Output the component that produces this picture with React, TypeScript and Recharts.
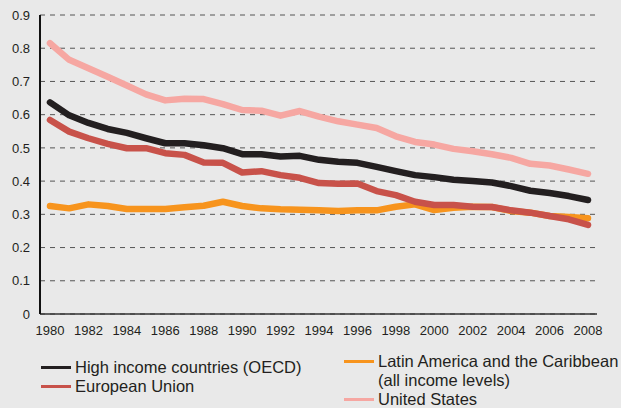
import { LineChart, Line, XAxis, YAxis, CartesianGrid } from 'recharts'

const years = [
  1980, 1981, 1982, 1983, 1984, 1985, 1986, 1987, 1988, 1989, 1990, 1991, 1992, 1993, 1994,
  1995, 1996, 1997, 1998, 1999, 2000, 2001, 2002, 2003, 2004, 2005, 2006, 2007, 2008,
]
const highIncome = [
  0.637, 0.598, 0.575, 0.557, 0.545, 0.529, 0.514, 0.514, 0.508, 0.499, 0.481, 0.481, 0.474, 0.476, 0.464,
  0.458, 0.455, 0.443, 0.43, 0.418, 0.412, 0.404, 0.4, 0.396, 0.385, 0.371, 0.364, 0.355, 0.343,
]
const europeanUnion = [
  0.584, 0.549, 0.529, 0.512, 0.499, 0.499, 0.484, 0.479, 0.456, 0.455, 0.426, 0.43, 0.418, 0.41, 0.394,
  0.392, 0.393, 0.37, 0.358, 0.338, 0.328, 0.328, 0.323, 0.322, 0.312, 0.305, 0.295, 0.285, 0.268,
]
const latinAmerica = [
  0.325, 0.318, 0.33, 0.325, 0.316, 0.316, 0.316, 0.321, 0.326, 0.338, 0.325, 0.318, 0.315, 0.314, 0.312,
  0.31, 0.312, 0.312, 0.323, 0.33, 0.313, 0.32, 0.323, 0.322, 0.31, 0.305, 0.295, 0.292, 0.288,
]
const unitedStates = [
  0.815, 0.765, 0.74, 0.714, 0.688, 0.661, 0.643, 0.648, 0.647, 0.632, 0.614, 0.612, 0.597, 0.611, 0.594,
  0.58, 0.57, 0.56, 0.535, 0.518, 0.51, 0.497, 0.49, 0.481, 0.47, 0.452, 0.447, 0.435, 0.422,
]
const xTicks = [1980, 1982, 1984, 1986, 1988, 1990, 1992, 1994, 1996, 1998, 2000, 2002, 2004, 2006, 2008]
const yTicks = [0, 0.1, 0.2, 0.3, 0.4, 0.5, 0.6, 0.7, 0.8, 0.9]

const data = years.map((y, i) => ({
  year: y,
  hi: highIncome[i],
  eu: europeanUnion[i],
  la: latinAmerica[i],
  us: unitedStates[i],
}))

const FONT = '"Liberation Sans", Arial, sans-serif'
const BLACK = '#231f20'
const RED = '#c8524a'
const ORANGE = '#f7941d'
const PINK = '#f6a7a2'

// legend row: swatch centred on the first text line
function LegendItem({ color, left, top, children }: { color: string; left: number; top: number; children: React.ReactNode }) {
  return (
    <div style={{ position: 'absolute', left, top, fontSize: 16.5, lineHeight: '19px', whiteSpace: 'nowrap' }}>
      <span style={{ position: 'absolute', left: 0, top: 8, width: 30, height: 3, background: color }} />
      <div style={{ marginLeft: 34 }}>{children}</div>
    </div>
  )
}

export default function App() {
  const lineProps = { type: 'linear' as const, strokeWidth: 6.5, dot: false, isAnimationActive: false, strokeLinecap: 'round' as const, strokeLinejoin: 'round' as const }
  return (
    <div style={{ position: 'absolute', left: 0, top: 0, width: 621, height: 408, overflow: 'hidden', background: '#e9e9e9', fontFamily: FONT, color: '#231f20' }}>
      <LineChart width={621} height={408} data={data} margin={{ top: 15, right: 24, left: 0, bottom: 64 }}>
        <CartesianGrid vertical={false} stroke="#555" strokeDasharray="5 5" />
        <XAxis
          dataKey="year"
          type="number"
          domain={[1980, 2008]}
          ticks={xTicks}
          padding={{ left: 10, right: 9 }}
          tickLine={false}
          tickMargin={6}
          axisLine={{ stroke: '#333', strokeWidth: 1.5 }}
          tick={{ fill: '#231f20', fontSize: 13, fontFamily: FONT }}
          height={30}
          interval={0}
        />
        <YAxis
          domain={[0, 0.9]}
          ticks={yTicks}
          width={40}
          tickLine={false}
          tickMargin={4}
          axisLine={{ stroke: '#111', strokeWidth: 2 }}
          tick={{ fill: '#231f20', fontSize: 13, fontFamily: FONT }}
          tickFormatter={(v: number) => (v === 0 ? '0' : v.toFixed(1))}
        />
        <Line dataKey="la" stroke={ORANGE} {...lineProps} />
        <Line dataKey="eu" stroke={RED} {...lineProps} />
        <Line dataKey="us" stroke={PINK} {...lineProps} />
        <Line dataKey="hi" stroke={BLACK} {...lineProps} />
      </LineChart>
      <LegendItem color={BLACK} left={41} top={358}>High income countries (OECD)</LegendItem>
      <LegendItem color={RED} left={41} top={377}>European Union</LegendItem>
      <LegendItem color={ORANGE} left={344} top={352}>
        Latin America and the Caribbean<br />(all income levels)
      </LegendItem>
      <LegendItem color={PINK} left={344} top={390}>United States</LegendItem>
    </div>
  )
}
